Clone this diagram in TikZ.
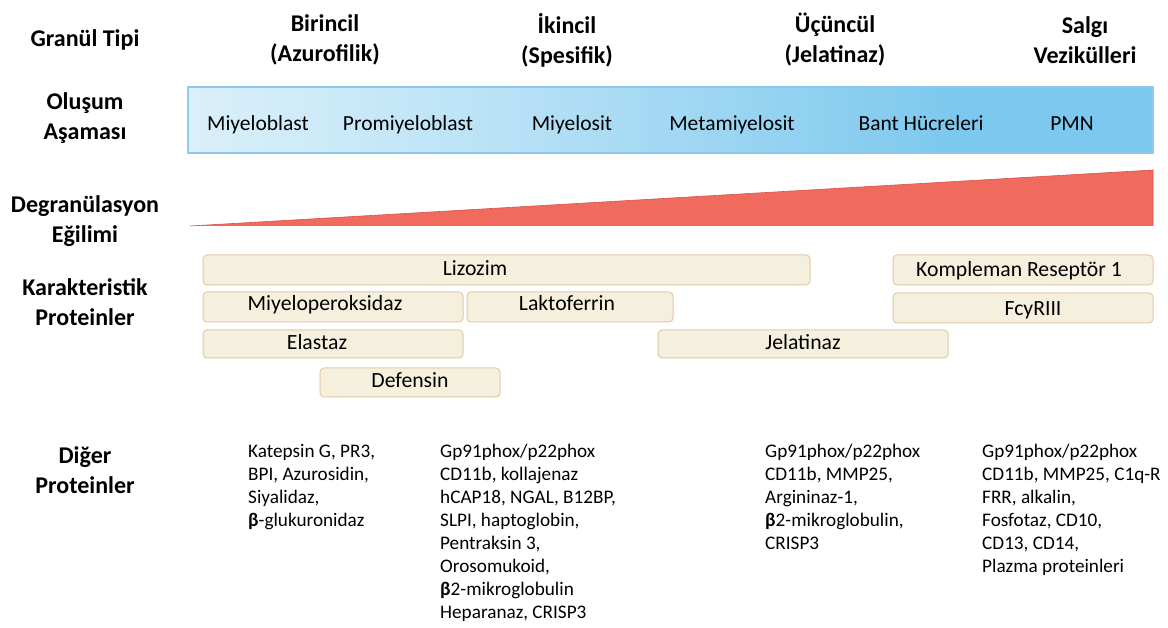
\documentclass[tikz,border=0pt]{standalone}
\usepackage{fontspec}
\setmainfont{Carlito}
\definecolor{barblue}{HTML}{7CC8EE}
\definecolor{barline}{HTML}{8CCBEA}
\definecolor{redc}{HTML}{F06B5D}
\definecolor{redline}{HTML}{D9534A}
\definecolor{boxfill}{HTML}{F4F0DD}
\definecolor{boxline}{HTML}{E2CAA6}
\pgfdeclarehorizontalshading{bluebar}{100bp}{color(0bp)=(white); color(12bp)=(barblue!12); color(30bp)=(barblue!35); color(42bp)=(barblue!55); color(65bp)=(barblue); color(100bp)=(barblue)}
\tikzset{
  lab/.style={align=center, font=\fontsize{24}{30}\selectfont\bfseries, inner sep=0pt},
  head/.style={align=center, font=\fontsize{24}{30}\selectfont\bfseries, inner sep=0pt},
  stage/.style={anchor=base, font=\fontsize{21.5}{24}\selectfont, inner sep=0pt},
  prot/.style={draw=boxline, fill=boxfill, rounded corners=4pt, line width=1pt},
  ptext/.style={anchor=base, font=\fontsize{21.7}{24}\selectfont, inner sep=0pt},
  other/.style={align=left, anchor=north west, font=\fontsize{19.2}{23}\selectfont, inner sep=0pt}
}
\begin{document}
\begin{tikzpicture}[x=1pt,y=-1pt]
\useasboundingbox (0,0) rectangle (1168,628);
% left labels
\node[lab] (gt) at (85,40) {Granül Tipi};
\node[lab] (oa) at (85,118) {Oluşum\\Aşaması};
\node[lab] (de) at (85,221) {Degranülasyon\\Eğilimi};
\node[lab] (kp) at (85,302) {Karakteristik\\Proteinler};
\node[lab] (dp) at (85,470) {Diğer\\Proteinler};
% headers
\node[head] (h1) at (325,40) {Birincil\\(Azurofilik)};
\node[head] (h2) at (567,40) {İkincil\\(Spesifik)};
\node[head] (h3) at (835,40) {Üçüncül\\(Jelatinaz)};
\node[head] (h4) at (1085,40) {Salgı\\Vezikülleri};
% blue bar
\shade[shading=bluebar] (188,87) rectangle (1153,153);
\draw[barline, line width=1.2pt] (188,87) rectangle (1153,153);
\node[stage] (s1) at (258,131) {Miyeloblast};
\node[stage] (s2) at (408,131) {Promiyeloblast};
\node[stage] (s3) at (572,131) {Miyelosit};
\node[stage] (s4) at (732,131) {Metamiyelosit};
\node[stage] (s5) at (921,131) {Bant Hücreleri};
\node[stage] (s6) at (1072,131) {PMN};
% red triangle
\fill[redc] (190,226) -- (1153,170) -- (1153,226) -- cycle;
\draw[redline, line width=0.6pt] (190,226) -- (1153,170) -- (1153,226);
% characteristic protein boxes
\draw[prot] (203,255) rectangle (810,285);
\node[ptext] (lz) at (475,276) {Lizozim};
\draw[prot] (893,255) rectangle (1153,285);
\node[ptext] (kr) at (1019,277) {Kompleman Reseptör 1};
\draw[prot] (203,292) rectangle (463,322);
\node[ptext] (mp) at (325,311) {Miyeloperoksidaz};
\draw[prot] (467,292) rectangle (673,322);
\node[ptext] (lf) at (567,311) {Laktoferrin};
\draw[prot] (893,293) rectangle (1153,323);
\node[ptext] (fc) at (1033,316) {FcyRIII};
\draw[prot] (203,330) rectangle (463,358);
\node[ptext] (el) at (317,350) {Elastaz};
\draw[prot] (658,330) rectangle (948,358);
\node[ptext] (jl) at (803,350) {Jelatinaz};
\draw[prot] (320,368) rectangle (500,397);
\node[ptext] (df) at (410,388) {Defensin};
% other proteins
\node[other] (o1) at (248,444) {Katepsin G, PR3,\\BPI, Azurosidin,\\Siyalidaz,\\{\bfseries β}-glukuronidaz};
\node[other] (o2) at (440,444) {Gp91phox/p22phox\\CD11b, kollajenaz\\hCAP18, NGAL, B12BP,\\SLPI, haptoglobin,\\Pentraksin 3,\\Orosomukoid,\\{\bfseries β}2-mikroglobulin\\Heparanaz, CRISP3};
\node[other] (o3) at (765,444) {Gp91phox/p22phox\\CD11b, MMP25,\\Argininaz-1,\\{\bfseries β}2-mikroglobulin,\\CRISP3};
\node[other] (o4) at (982,444) {Gp91phox/p22phox\\CD11b, MMP25, C1q-R\\FRR, alkalin,\\Fosfotaz, CD10,\\CD13, CD14,\\Plazma proteinleri};
\end{tikzpicture}
\end{document}
